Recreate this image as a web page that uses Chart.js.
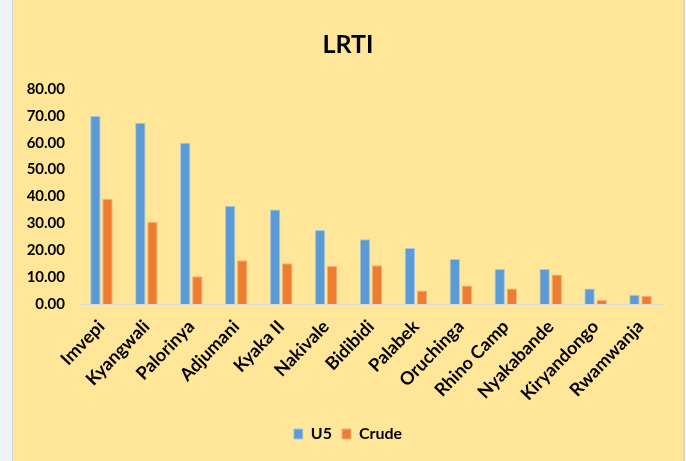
<!DOCTYPE html>
<html>
<head>
<meta charset="utf-8">
<script src="https://cdn.jsdelivr.net/npm/chart.js@4"></script>
<style>
    body { margin: 0; background: #EDF2FB; }
    #frame {
        position: absolute; left: 12px; top: 0;
        width: 670px; height: 461px;
        background: #FFE699;
        border-left: 1px solid #D6D6D6;
        border-right: 2px solid #D6D6D6;
    }
</style>
</head>
<body>
<div id="frame"><canvas id="chart" width="670" height="461"></canvas></div>
<script>
// Camps, LRTI rates
const camps = ['Imvepi', 'Kyangwali', 'Palorinya', 'Adjumani', 'Kyaka II', 'Nakivale', 'Bidibidi',
    'Palabek', 'Oruchinga', 'Rhino Camp', 'Nyakabande', 'Kiryandongo', 'Rwamwanja'];
const u5 = [70.0, 67.4, 60.0, 36.6, 35.2, 27.5, 24.1, 20.8, 16.7, 13.0, 13.0, 5.8, 3.4];
const crude = [39.2, 30.6, 10.3, 16.3, 15.2, 14.1, 14.4, 5.0, 6.9, 5.8, 11.0, 1.6, 3.1];
const yTicks = [0, 10, 20, 30, 40, 50, 60, 70, 80];

const boldFont = size => ({ family: 'Lato', size: size, weight: 'bold' });

new Chart(document.getElementById('chart'), {
    type: 'bar',
    data: {
        labels: camps,
        datasets: [
            { label: 'U5', data: u5, backgroundColor: '#5B9BD5', borderColor: '#A9C8E6', borderWidth: 1 },
            { label: 'Crude', data: crude, backgroundColor: '#ED7D31', borderColor: '#F4B183', borderWidth: 1 }
        ]
    },
    options: {
        responsive: false,
        animation: false,
        categoryPercentage: 0.54,
        barPercentage: 0.86,
        layout: { padding: { left: 0, right: 0, bottom: 9 } },
        scales: {
            x: {
                grid: { display: false, drawTicks: false },
                border: { color: '#D9D9D9', width: 1 },
                afterFit: scale => { scale.height = 112; },
                ticks: { color: '#000', font: boldFont(18), minRotation: 46, maxRotation: 46, padding: 12 }
            },
            y: {
                min: 0,
                max: 80,
                afterBuildTicks: scale => { scale.ticks = yTicks.map(v => ({ value: v })); },
                afterFit: scale => { scale.width = 66; },
                grid: { display: false, drawTicks: false },
                border: { display: false },
                ticks: {
                    color: '#000',
                    font: boldFont(15),
                    padding: 14,
                    callback: v => v.toFixed(2)
                }
            },
            // empty right-hand gutter so the title stays centred on the whole chart
            gutter: {
                position: 'right',
                min: 0,
                max: 80,
                afterFit: scale => { scale.width = 20; },
                grid: { display: false, drawTicks: false },
                border: { display: false },
                ticks: { display: false }
            }
        },
        plugins: {
            title: {
                display: true,
                text: 'LRTI',
                color: '#000',
                font: boldFont(25),
                padding: { top: 30, bottom: 29 }
            },
            legend: {
                position: 'bottom',
                labels: {
                    color: '#000',
                    font: boldFont(16),
                    boxWidth: 9,
                    boxHeight: 10,
                    padding: 10
                }
            },
            tooltip: { enabled: false }
        }
    }
});
</script>
</body>
</html>
